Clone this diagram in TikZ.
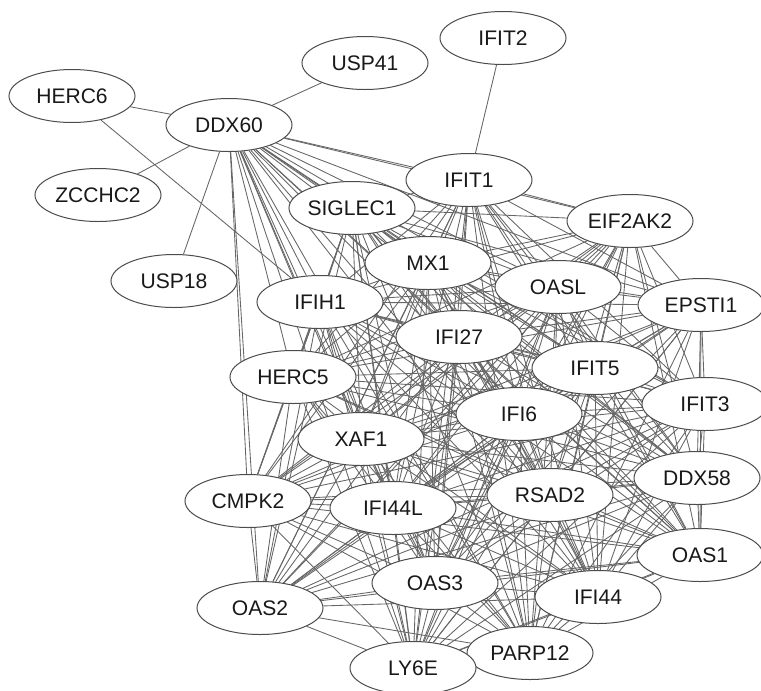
\documentclass[tikz,border=0pt]{standalone}
\usepackage{fontspec}
\setmainfont{Liberation Sans}
\usetikzlibrary{shapes.geometric,backgrounds}
\begin{document}
\begin{tikzpicture}[x=0.75pt,y=-0.75pt,
  gene/.style={ellipse,draw=black!70,line width=0.75pt,fill=white,inner sep=0pt,
    minimum width=94.5pt,minimum height=39.75pt,text=black!90,
    font=\fontsize{15.8}{18}\selectfont},
  link/.style={draw=black!60,line width=0.65pt}]
\useasboundingbox (0,0) rectangle (761,690);
\node[gene] (IFIT2) at (503,38) {IFIT2};
\node[gene] (USP41) at (365,63) {USP41};
\node[gene] (HERC6) at (72,96) {HERC6};
\node[gene] (DDX60) at (229,125) {DDX60};
\node[gene] (ZCCHC2) at (98,195) {ZCCHC2};
\node[gene] (USP18) at (174,281) {USP18};
\node[gene] (IFIT1) at (469,180) {IFIT1};
\node[gene] (SIGLEC1) at (352,208) {SIGLEC1};
\node[gene] (EIF2AK2) at (630,221) {EIF2AK2};
\node[gene] (MX1) at (428,263) {MX1};
\node[gene] (OASL) at (558,287) {OASL};
\node[gene] (IFIH1) at (320,302) {IFIH1};
\node[gene] (EPSTI1) at (701,305) {EPSTI1};
\node[gene] (IFI27) at (459,337) {IFI27};
\node[gene] (HERC5) at (293,377) {HERC5};
\node[gene] (IFIT5) at (595,368) {IFIT5};
\node[gene] (IFIT3) at (705,404) {IFIT3};
\node[gene] (IFI6) at (519,414) {IFI6};
\node[gene] (XAF1) at (361,439) {XAF1};
\node[gene] (DDX58) at (697,478) {DDX58};
\node[gene] (CMPK2) at (248,501) {CMPK2};
\node[gene] (IFI44L) at (393,508) {IFI44L};
\node[gene] (RSAD2) at (550,495) {RSAD2};
\node[gene] (OAS1) at (700,555) {OAS1};
\node[gene] (OAS3) at (435,583) {OAS3};
\node[gene] (IFI44) at (598,597) {IFI44};
\node[gene] (OAS2) at (260,608) {OAS2};
\node[gene] (PARP12) at (530,653) {PARP12};
\node[gene] (LY6E) at (413,668) {LY6E};
\def\corelist{DDX60,IFIT1,SIGLEC1,EIF2AK2,MX1,OASL,IFIH1,EPSTI1,IFI27,HERC5,IFIT5,IFIT3,IFI6,XAF1,DDX58,CMPK2,IFI44L,RSAD2,OAS1,OAS3,IFI44,OAS2,PARP12,LY6E}
\begin{pgfonlayer}{background}
\foreach \a [count=\i] in \corelist {
  \foreach \b [count=\j] in \corelist {
    \ifnum\j>\i \draw[link] (\a) -- (\b); \fi
  }
}
\draw[link] (DDX60) -- (HERC6);
\draw[link] (DDX60) -- (USP41);
\draw[link] (DDX60) -- (ZCCHC2);
\draw[link] (DDX60) -- (USP18);
\draw[link] (HERC6) -- (IFIH1);
\draw[link] (IFIT2) -- (IFIT1);
\end{pgfonlayer}
\end{tikzpicture}
\end{document}
